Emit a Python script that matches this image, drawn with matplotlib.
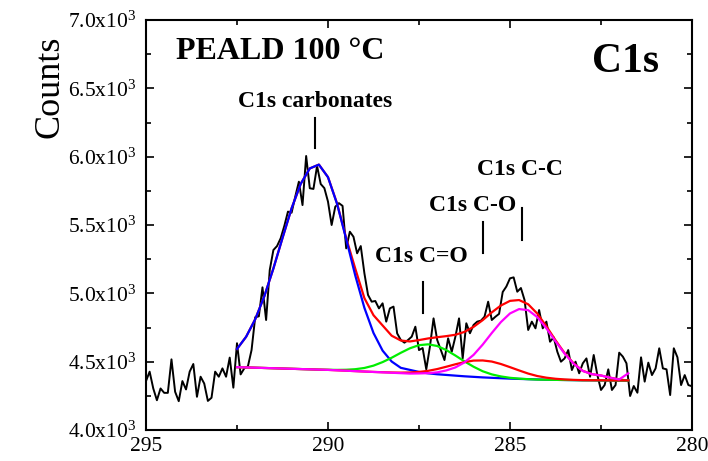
import numpy as np
import matplotlib
matplotlib.use("Agg")
import matplotlib.pyplot as plt
from matplotlib.ticker import MultipleLocator, FuncFormatter

plt.rcParams["font.family"] = ["Liberation Serif", "DejaVu Serif"]
plt.rcParams["mathtext.fontset"] = "custom"
plt.rcParams["mathtext.rm"] = "Liberation Serif"

# measured C1s spectrum, 295.0 -> 280.0 eV in 0.1 eV steps
counts = [
    4358, 4427, 4304, 4218, 4304, 4272, 4272, 4517, 4280, 4211,
    4358, 4297, 4427, 4483, 4243, 4390, 4340, 4213, 4236, 4427,
    4390, 4451, 4390, 4530, 4310, 4635, 4407, 4451, 4466, 4585,
    4825, 4832, 5044, 4805, 5171, 5317, 5346, 5403, 5493, 5598,
    5590, 5707, 5817, 5646, 6005, 5769, 5764, 5932, 5800, 5770,
    5671, 5500, 5634, 5660, 5640, 5329, 5451, 5414, 5293, 5346,
    5147, 4988, 4939, 4944, 4890, 4927, 4793, 4890, 4903, 4707,
    4659, 4639, 4659, 4683, 4756, 4585, 4600, 4444, 4610, 4817,
    4659, 4585, 4512, 4671, 4573, 4683, 4817, 4524, 4781, 4708,
    4769, 4793, 4800, 4829, 4939, 4805, 4829, 4850, 5010, 5050,
    5110, 5117, 5012, 5039, 4951, 4732, 4793, 4744, 4878, 4744,
    4793, 4646, 4678, 4573, 4500, 4524, 4585, 4439, 4500, 4415,
    4488, 4524, 4390, 4549, 4402, 4293, 4329, 4444, 4293, 4329,
    4566, 4537, 4488, 4249, 4322, 4273, 4532, 4354, 4493, 4402,
    4451, 4598, 4451, 4444, 4256, 4598, 4532, 4329, 4402, 4329,
    4320,
]
energy = np.round(295.0 - 0.1 * np.arange(len(counts)), 1)

# fitted components, 292.5 -> 281.75 eV in 0.25 eV steps
fit_ev = np.round(292.5 - 0.25 * np.arange(44), 2)

envelope = [
    4593, 4682, 4810, 4978, 5182, 5405, 5622, 5801,
    5914, 5942, 5850, 5657, 5404, 5180, 4965, 4840,
    4765, 4690, 4655, 4648, 4658, 4670, 4679, 4687,
    4697, 4718, 4755, 4804, 4861, 4911, 4945, 4951,
    4920, 4852, 4759, 4657, 4563, 4487, 4433, 4409,
    4399, 4383, 4370, 4362,
]
carbonate = [
    4593, 4682, 4810, 4978, 5182, 5405, 5622, 5801,
    5914, 5942, 5850, 5654, 5397, 5130, 4894, 4710,
    4581, 4501, 4455, 4440, 4425, 4415, 4408, 4403,
    4398, 4393, 4389, 4385, 4382, 4379, 4376, 4374,
    4372, 4370, 4368, 4367, 4366, 4365, 4364, 4364,
    4363, 4363, 4362, 4362,
]
c_dbl_o = [
    4460, 4458, 4456, 4454, 4452, 4450, 4448, 4446,
    4444, 4442, 4441, 4440, 4441, 4445, 4454, 4471,
    4497, 4529, 4565, 4598, 4621, 4627, 4615, 4585,
    4545, 4502, 4463, 4430, 4407, 4392, 4382, 4376,
    4372, 4369, 4368, 4367, 4366, 4365, 4364, 4364,
    4363, 4363, 4362, 4362,
]
c_o = [
    4460, 4458, 4456, 4454, 4452, 4450, 4448, 4446,
    4444, 4442, 4440, 4437, 4434, 4431, 4428, 4425,
    4423, 4421, 4420, 4421, 4425, 4433, 4446, 4463,
    4481, 4497, 4508, 4509, 4501, 4483, 4460, 4436,
    4413, 4395, 4383, 4375, 4370, 4367, 4365, 4364,
    4364, 4363, 4363, 4363,
]
c_c = [
    4460, 4458, 4456, 4454, 4452, 4450, 4448, 4446,
    4444, 4442, 4440, 4437, 4434, 4431, 4428, 4425,
    4422, 4419, 4416, 4413, 4414, 4416, 4422, 4436,
    4458, 4495, 4550, 4625, 4710, 4790, 4853, 4885,
    4877, 4826, 4744, 4649, 4559, 4485, 4432, 4409,
    4399, 4383, 4370, 4415,
]

# peak labels: text, text position (eV, counts), marker bar (eV, y0, y1)
peak_names = ["C1s carbonates", "C1s C=O", "C1s C-O", "C1s C-C"]
label_pos = [(290.35, 6363), (287.43, 5229), (286.02, 5603), (284.74, 5866)]
bar_pos = [(290.36, 6061, 6286), (287.38, 4854, 5085),
           (285.75, 5297, 5524), (284.67, 5390, 5622)]

fig = plt.figure(figsize=(7.08, 4.61), dpi=100)
ax = fig.add_axes([0.2062, 0.0672, 0.7712, 0.8894])

ax.plot(energy, counts, color="black", lw=1.4, zorder=1)
ax.plot(fit_ev, envelope, color="red", lw=1.6, zorder=2)
ax.plot(fit_ev, carbonate, color="blue", lw=1.6, zorder=3)
ax.plot(fit_ev, c_dbl_o, color="#00ee00", lw=1.6, zorder=4)
ax.plot(fit_ev, c_o, color="red", lw=1.6, zorder=5)
ax.plot(fit_ev, c_c, color="magenta", lw=1.6, zorder=6)

for name, (tx, ty), (bx, b0, b1) in zip(peak_names, label_pos, bar_pos):
    ax.text(tx, ty, name, ha="center", va="baseline", fontsize=17,
            fontweight="bold")
    ax.plot([bx, bx], [b0, b1], color="black", lw=1.5)

ax.text(294.18, 6715, "PEALD 100 °C", ha="left", va="baseline",
        fontsize=23, fontweight="bold")
ax.text(280.91, 6622, "C1s", ha="right", va="baseline", fontsize=30,
        fontweight="bold")

ax.set_xlim(295, 280)
ax.set_ylim(4000, 7000)
ax.xaxis.set_major_locator(MultipleLocator(5))
ax.xaxis.set_minor_locator(MultipleLocator(2.5))
ax.yaxis.set_major_locator(MultipleLocator(500))
ax.yaxis.set_minor_locator(MultipleLocator(250))
ax.xaxis.set_major_formatter(FuncFormatter(lambda v, p: "%d" % round(v)))
ax.yaxis.set_major_formatter(
    FuncFormatter(lambda v, p: r"$\mathregular{%.1fx10^{3}}$" % (v / 1000)))

ax.tick_params(which="both", direction="in", top=True, right=True,
               width=1.2)
ax.tick_params(which="major", length=6, pad=5)
ax.tick_params(which="minor", length=3.5)
ax.tick_params(axis="x", labelsize=15.5)
ax.tick_params(axis="y", labelsize=15.5, pad=7)
for s in ax.spines.values():
    s.set_linewidth(1.5)

fig.text(50 / 708, 1 - 87 / 461, "Counts", rotation=90, ha="center",
         va="center", fontsize=26)

fig.savefig("out.png", dpi=100)
